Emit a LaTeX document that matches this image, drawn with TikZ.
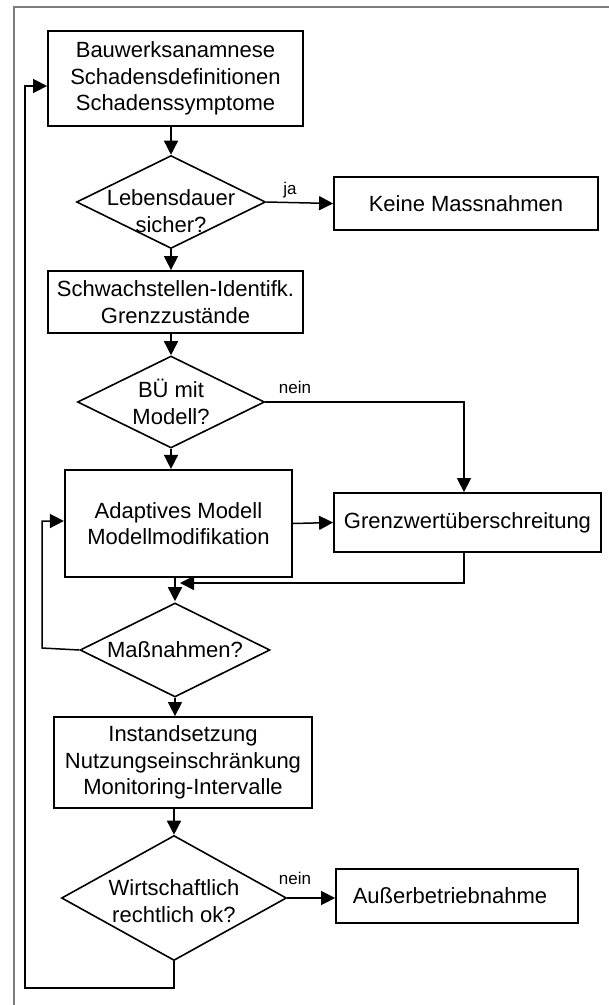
\documentclass[tikz,border=0pt]{standalone}
\usepackage{fontspec}
\setmainfont{Liberation Sans}
\usetikzlibrary{arrows.meta,shapes.geometric}
\newcommand{\fsmain}{\fontsize{22}{26.5}\selectfont}
\newcommand{\fslab}{\fontsize{17}{19}\selectfont}
\definecolor{framegray}{RGB}{125,125,125}
\begin{document}
\begin{tikzpicture}[x=1pt,y=-1pt,
  box/.style={draw, line width=1.8pt, inner sep=0pt, align=center, font=\fsmain},
  dia/.style={draw, diamond, line width=1.6pt, inner sep=0pt},
  dtext/.style={font=\fsmain, align=center},
  conn/.style={line width=1.5pt},
  arr/.style={conn, -{Triangle[length=14pt,width=14pt]}},
  lab/.style={font=\fslab, inner sep=0pt}]
\useasboundingbox (0,0) rectangle (609,1005);
\fill[white] (0,0) rectangle (609,1005);
\clip (0,0) rectangle (609,1005);
\draw[line width=2pt, framegray] (14,7) rectangle (660,1060);

\node[box, minimum width=255pt, minimum height=95pt] (b1) at (175.5,78.5)
  {Bauwerksanamnese\\Schadensdefinitionen\\Schadenssymptome};
\node[dia, minimum width=189pt, minimum height=93pt,
  label={[dtext, yshift=-9pt]center:Lebensdauer\\sicher?}] (d1) at (171,202) {};
\node[box, minimum width=264pt, minimum height=53pt] (k) at (466,203.5) {Keine Massnahmen};
\node[box, minimum width=255pt, minimum height=62pt] (b2) at (175.5,302)
  {Schwachstellen-Identifk.\\Grenzzustände};
\node[dia, minimum width=187pt, minimum height=92pt,
  label={[dtext]center:BÜ mit\\Modell?}] (d2) at (171,402) {};
\node[box, line width=2.2pt, minimum width=227pt, minimum height=107pt] (b3) at (178.5,523.5)
  {Adaptives Modell\\Modellmodifikation};
\node[box, minimum width=267pt, minimum height=59pt] (g) at (467.5,522.5) {Grenzwertüberschreitung};
\node[dia, minimum width=190pt, minimum height=94pt,
  label={[dtext]center:Maßnahmen?}] (d3) at (175,650) {};
\node[box, minimum width=258pt, minimum height=91pt] (b4) at (183,762.5)
  {Instandsetzung\\Nutzungseinschränkung\\Monitoring-Intervalle};
\node[dia, minimum width=225pt, minimum height=125pt,
  label={[dtext, yshift=-3pt]center:Wirtschaftlich\\rechtlich ok?}] (d4) at (174,898) {};
\node[box, minimum width=242pt, minimum height=54pt] (a) at (457,896)
  {\hspace*{-14pt}Außerbetriebnahme};

\node[lab] (lja) at (290,190) {ja};
\node[lab] (ln1) at (295,387) {nein};
\node[lab] (ln2) at (295,878) {nein};

\coordinate (c1) at (464,402);
\coordinate (c2) at (464,583);
\coordinate (c3) at (180,583);
\coordinate (c4) at (42,648);
\coordinate (c5) at (42,521);
\coordinate (c6) at (174,988);
\coordinate (c7) at (25,988);
\coordinate (c8) at (25,86);

\draw[arr] (d1.north |- b1.south) -- (d1.north);
\draw[arr] (d1.east) -- (k.west);
\draw[arr] (d1.south) -- (d2.north |- b2.north);
\draw[arr] (d2.north |- b2.south) -- (d2.north);
\draw[arr] (d2.east) -- (c1) -- (c1 |- g.north);
\draw[arr] (d2.south) -- (d2.south |- b3.north);
\draw[arr] (b3.east) -- (g.west);
\draw[arr] (d3.north |- b3.south) -- ([yshift=1pt]d3.north);
\draw[arr] (c2 |- g.south) -- (c2) -- (c3);
\draw[arr] (d3.west) -- (c4) -- (c5) -- (b3.west |- c5);
\draw[arr] (d3.south) -- (d3.south |- b4.north);
\draw[arr] (d4.north |- b4.south) -- (d4.north);
\draw[arr] (d4.east) -- (a.west |- d4.east);
\draw[arr] (d4.south) -- (c6) -- (c7) -- (c8) -- (b1.west |- c8);
\end{tikzpicture}
\end{document}
